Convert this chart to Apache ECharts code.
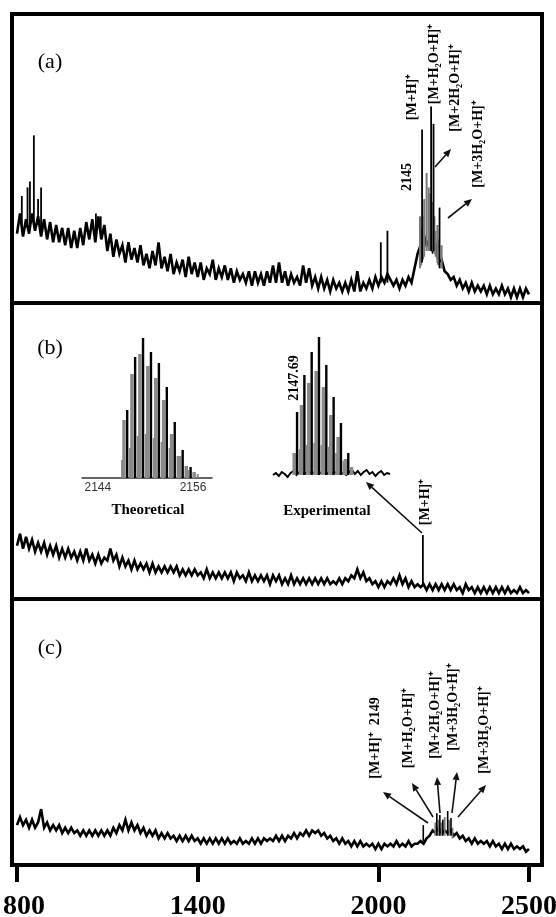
<!DOCTYPE html>
<html>
<head>
<meta charset="utf-8">
<script src="https://cdn.jsdelivr.net/npm/echarts@6/dist/echarts.min.js"></script>
<style>
  html, body { margin: 0; padding: 0; background: #fff; }
  #chart { width: 556px; height: 917px; }
</style>
</head>
<body>
<div id="chart"></div>
<script>
// ---- Spectra sampled every 10 m/z from 800 to 2500 (relative intensity, 0-100 per panel) ----
const MZ_START = 800;
const MZ_STEP = 10;

const specA = [
  24, 31, 23, 29, 24, 31, 25, 30, 23, 29,
  22, 28, 21, 27, 21, 26, 20, 26, 19, 25,
  19, 26, 20, 28, 22, 29, 21, 30, 22, 27,
  18, 24, 16, 22, 17, 20, 14, 21, 15, 19,
  14, 20, 13, 17, 12, 18, 13, 21, 12, 16,
  11, 17, 10, 14, 11, 15, 9, 16, 10, 14,
  9, 14, 8, 12, 10, 15, 8, 12, 9, 13,
  8, 12, 7, 11, 8, 10, 7, 11, 6, 11,
  7, 10, 6, 11, 7, 13, 7, 14, 7, 11,
  6, 10, 7, 9, 6, 13, 7, 12, 6, 9,
  5, 9, 5, 8, 4, 8, 5, 7, 4, 7,
  4, 8, 4, 11, 4, 7, 5, 8, 5, 9,
  6, 9, 7, 10, 8, 6, 8, 5, 8, 6,
  9, 7, 12, 17, 20, 24, 20, 22, 18, 20,
  14, 15, 11, 10, 8, 9, 6, 8, 5, 7,
  4, 7, 4, 6, 4, 6, 3, 6, 3, 5,
  3, 6, 3, 5, 2, 5, 2, 5, 2, 5,
  3
];

const specB = [
  18, 22, 17, 21, 17, 20, 16, 19, 16, 19,
  15, 18, 15, 18, 14, 17, 14, 17, 14, 16,
  13, 16, 13, 17, 13, 15, 12, 15, 12, 14,
  13, 17, 13, 15, 11, 14, 11, 13, 10, 13,
  10, 12, 10, 12, 9, 12, 9, 11, 9, 11,
  9, 11, 9, 11, 8, 10, 8, 10, 8, 10,
  8, 9, 7, 10, 7, 9, 7, 9, 7, 9,
  7, 9, 6, 9, 7, 8, 6, 9, 6, 8,
  6, 8, 6, 8, 5, 8, 6, 8, 5, 7,
  5, 8, 5, 7, 5, 7, 5, 7, 5, 7,
  5, 7, 5, 7, 5, 6, 5, 7, 5, 7,
  6, 8, 7, 10, 7, 9, 6, 7, 5, 6,
  4, 6, 4, 6, 5, 7, 5, 8, 5, 7,
  4, 6, 4, 5, 4, 5, 3, 5, 3, 5,
  3, 5, 3, 5, 3, 5, 3, 4, 2, 5,
  3, 4, 2, 4, 2, 4, 2, 4, 2, 4,
  2, 4, 2, 4, 2, 3, 2, 4, 2, 3,
  2
];

const specC = [
  15, 18, 15, 17, 14, 17, 14, 16, 21, 14,
  16, 13, 15, 13, 15, 12, 14, 12, 14, 12,
  13, 11, 13, 11, 13, 11, 13, 11, 13, 11,
  13, 11, 14, 12, 15, 13, 17, 13, 16, 13,
  15, 12, 14, 11, 13, 11, 13, 10, 12, 10,
  12, 10, 11, 9, 11, 9, 11, 9, 11, 9,
  10, 8, 10, 8, 10, 8, 10, 8, 10, 8,
  10, 8, 9, 8, 10, 8, 9, 8, 10, 8,
  10, 8, 10, 9, 10, 9, 11, 9, 11, 9,
  11, 10, 12, 10, 12, 11, 13, 11, 13, 12,
  13, 11, 12, 10, 11, 9, 10, 8, 10, 8,
  9, 7, 9, 7, 9, 7, 8, 7, 8, 6,
  8, 6, 8, 7, 8, 7, 9, 7, 8, 7,
  9, 7, 8, 8, 9, 8, 10, 11, 13, 12,
  14, 12, 13, 12, 13, 11, 12, 10, 11, 9,
  10, 8, 10, 8, 9, 8, 9, 7, 9, 7,
  8, 6, 8, 6, 8, 6, 7, 6, 7, 5,
  6
];

// Sharp peaks drawn as sticks: [m/z, foot, top]
const peaksA = [
  [816, 26, 37], [835, 26, 40], [843, 27, 42], [856, 28, 58], [870, 27, 36], [880, 26, 40],
  [1062, 24, 31], [1078, 24, 30], [2008, 7, 21], [2030, 7, 25],
  [2145, 14, 60], [2175, 18, 68], [2183, 18, 62], [2203, 12, 33]
];
const shouldersA = [
  [2138, 12, 30], [2142, 13, 26], [2148, 15, 30], [2152, 16, 36], [2160, 18, 45],
  [2167, 18, 40], [2171, 18, 38], [2179, 18, 35], [2186, 17, 30],
  [2190, 16, 25], [2196, 14, 27], [2200, 13, 22], [2210, 12, 20]
];
const peaksB = [[2147.69, 5, 21.6]];
const peaksC = [
  [2149, 9, 15], [2194, 11, 19.5], [2204, 11, 18.8], [2214, 11, 17], [2230, 11, 20.3], [2241, 11, 17.7]
];
const shouldersC = [
  [2189, 11, 16], [2199, 11, 17], [2209, 11, 16], [2220, 11, 18], [2235, 11, 17], [2246, 10, 14]
];

const axisTicks = [800, 1400, 2000, 2500];

// ---- Isotope pattern insets ----
const theoTicks = [2144, 2156];
const theoMz = [2147.7, 2148.7, 2149.7, 2150.7, 2151.7, 2152.7, 2153.7, 2154.7, 2155.7];
const theoHeight = [68, 121, 140, 126, 115, 91, 56, 28, 11];
const theoShoulderMz = [2147.3, 2148.3, 2149.3, 2150.3, 2151.3, 2152.3, 2153.3, 2154.3, 2155.3];
const theoShoulder = [58, 104, 124, 112, 100, 78, 44, 22, 8];
const theoValleyMz = [2148.15, 2149.15, 2150.15, 2151.15, 2152.15, 2153.15, 2154.15, 2155.15, 2156.15];
const theoValley = [30, 42, 44, 40, 36, 30, 22, 12, 6];
const theoFoot = [[2147.05, 18], [2156.6, 4]];

const expMz = [2147.69, 2148.69, 2149.69, 2150.69, 2151.69, 2152.69, 2153.69, 2154.69];
const expHeight = [63, 100, 123, 138, 110, 78, 52, 22];
const expShoulderMz = [2147.3, 2148.3, 2149.3, 2150.3, 2151.3, 2152.3, 2153.3, 2154.3];
const expShoulder = [22, 70, 92, 104, 88, 60, 38, 16];
const expValleyMz = [2148.15, 2149.15, 2150.15, 2151.15, 2152.15, 2153.15, 2154.15, 2155.15];
const expValley = [26, 30, 32, 30, 28, 22, 14, 8];
const expNoiseStart = 2144.4;
const expNoiseStep = 0.4;
const expNoise = [
  0, 2, -1, 3, 1, -2, 2, 4, 0, 3,
  1, 2, 1, 3, 2, 1, 2, 3, 1, 2,
  1, 3, 2, 1, 2, 0, 3, 5, 1, 4,
  0, 3, 5, 1, 3, -1, 2, 4, 0, 2,
  1
];

// ---- helpers ----
const toXY = (arr, start, step) => arr.map((v, i) => [start + i * step, v]);
const sticksFrom = (mz, h) => mz.map((m, i) => [m, 0, h[i]]);
const plainNumber = (v) => String(v);

function stickSeries(data, idx, color, width) {
  return {
    type: 'custom', xAxisIndex: idx, yAxisIndex: idx, data: data,
    encode: { x: 0, y: [1, 2] }, silent: true, animation: false, z: 3,
    renderItem: function (params, api) {
      const a = api.coord([api.value(0), api.value(1)]);
      const b = api.coord([api.value(0), api.value(2)]);
      return {
        type: 'line',
        shape: { x1: a[0], y1: a[1], x2: b[0], y2: b[1] },
        style: { stroke: color, lineWidth: width }
      };
    }
  };
}

function traceSeries(data, idx, width) {
  return {
    type: 'line', xAxisIndex: idx, yAxisIndex: idx, data: data,
    showSymbol: false, symbol: 'none', silent: true, animation: false, z: 2,
    lineStyle: { color: '#000', width: width, join: 'miter', miterLimit: 4 }
  };
}

const SERIF = '"Liberation Serif", "Times New Roman", serif';

function vLabel(text, x, y, size) {
  return {
    type: 'text', x: x, y: y, rotation: Math.PI / 2, z: 100,
    style: {
      text: text, fill: '#000', font: 'bold ' + size + 'px ' + SERIF,
      align: 'center', verticalAlign: 'middle'
    }
  };
}
function hLabel(text, x, y, font) {
  return {
    type: 'text', x: x, y: y, z: 100,
    style: { text: text, fill: '#000', font: font, align: 'center', verticalAlign: 'middle' }
  };
}
function arrow(x1, y1, x2, y2) {
  const ang = Math.atan2(y2 - y1, x2 - x1);
  const L = 8, W = 3.5;
  const bx = x2 - L * Math.cos(ang), by = y2 - L * Math.sin(ang);
  const px = -Math.sin(ang) * W, py = Math.cos(ang) * W;
  return [
    { type: 'line', z: 100, shape: { x1: x1, y1: y1, x2: bx, y2: by }, style: { stroke: '#111', lineWidth: 1.6 } },
    { type: 'polygon', z: 100, shape: { points: [[x2, y2], [bx + px, by + py], [bx - px, by - py]] }, style: { fill: '#111' } }
  ];
}

// ---- layout ----
const X_MIN = 783.4, X_MAX = 2543.2;
const frame = { show: true, borderColor: '#000', borderWidth: 4, backgroundColor: 'transparent', containLabel: false, outerBoundsMode: 'none' };

const grids = [
  Object.assign({ left: 12, top: 14, width: 530, height: 289 }, frame),
  Object.assign({ left: 12, top: 303, width: 530, height: 296 }, frame),
  Object.assign({ left: 12, top: 599, width: 530, height: 266 }, frame),
  { left: 82, top: 330, width: 130, height: 148, show: false, containLabel: false, outerBoundsMode: 'none' },
  { left: 273, top: 325, width: 117, height: 160, show: false, containLabel: false, outerBoundsMode: 'none' }
];

const tickFont = { fontFamily: SERIF, fontWeight: 'bold', fontSize: 28, color: '#000' };
const hiddenX = (g) => ({ type: 'value', gridIndex: g, min: X_MIN, max: X_MAX, show: false });
const xAxes = [
  hiddenX(0), hiddenX(1),
  {
    type: 'value', gridIndex: 2, min: X_MIN, max: X_MAX,
    axisLine: { show: false },
    splitLine: { show: false },
    axisTick: { show: true, inside: false, length: 17, customValues: axisTicks, lineStyle: { color: '#000', width: 4 } },
    axisLabel: Object.assign({
      show: true, customValues: axisTicks, margin: 28,
      formatter: (v) => (v === axisTicks[0] ? '{first|' + v + '}' : String(v)),
      rich: { first: Object.assign({ padding: [0, 0, 0, 14] }, tickFont) }
    }, tickFont)
  },
  {
    type: 'value', gridIndex: 3, min: 2142, max: 2158.4,
    axisLine: { show: true, onZero: false, lineStyle: { color: '#333', width: 1.5 } },
    axisTick: { show: false }, splitLine: { show: false },
    axisLabel: {
      show: true, customValues: theoTicks, margin: 4, formatter: plainNumber,
      fontFamily: '"Liberation Sans", Arial, sans-serif', fontSize: 12, color: '#333'
    }
  },
  { type: 'value', gridIndex: 4, min: 2144.4, max: 2160.4, show: false }
];
const yAxes = [
  { type: 'value', gridIndex: 0, min: 0, max: 100, show: false },
  { type: 'value', gridIndex: 1, min: 0, max: 100, show: false },
  { type: 'value', gridIndex: 2, min: 0, max: 100, show: false },
  { type: 'value', gridIndex: 3, min: 0, max: 148, show: false },
  { type: 'value', gridIndex: 4, min: -10, max: 150, show: false }
];

const series = [
  traceSeries(toXY(specA, MZ_START, MZ_STEP), 0, 2.6),
  stickSeries(shouldersA, 0, '#7a7a7a', 2),
  stickSeries(peaksA, 0, '#000', 1.8),
  traceSeries(toXY(specB, MZ_START, MZ_STEP), 1, 2.6),
  stickSeries(peaksB, 1, '#000', 1.8),
  traceSeries(toXY(specC, MZ_START, MZ_STEP), 2, 2.6),
  stickSeries(shouldersC, 2, '#7a7a7a', 1.8),
  stickSeries(peaksC, 2, '#000', 1.6),
  // theoretical isotope pattern
  stickSeries(sticksFrom(theoValleyMz, theoValley), 3, '#8a8a8a', 3.5),
  stickSeries(sticksFrom(theoShoulderMz, theoShoulder), 3, '#8a8a8a', 3.5),
  stickSeries(theoFoot.map(d => [d[0], 0, d[1]]), 3, '#8a8a8a', 2),
  stickSeries(sticksFrom(theoMz, theoHeight), 3, '#000', 2.4),
  // experimental isotope pattern
  traceSeries(toXY(expNoise, expNoiseStart, expNoiseStep), 4, 2),
  stickSeries(sticksFrom(expValleyMz, expValley), 4, '#8a8a8a', 3.5),
  stickSeries(sticksFrom(expShoulderMz, expShoulder), 4, '#8a8a8a', 3.5),
  stickSeries(sticksFrom(expMz, expHeight), 4, '#000', 2.4)
];

const graphic = [
  hLabel('(a)', 50, 62, '22px ' + SERIF),
  hLabel('(b)', 50, 348, '22px ' + SERIF),
  hLabel('(c)', 50, 648, '22px ' + SERIF),
  // panel (a)
  vLabel('[M+H]⁺', 412, 97, 14),
  vLabel('2145', 407, 177, 14),
  vLabel('[M+H₂O+H]⁺', 434, 64, 14),
  vLabel('[M+2H₂O+H]⁺', 455, 88, 14),
  vLabel('[M+3H₂O+H]⁺', 478, 144, 14),
  ...arrow(435, 167, 451, 149),
  ...arrow(448, 218, 472, 199),
  // panel (b)
  vLabel('2147.69', 294, 378, 14),
  vLabel('[M+H]⁺', 425, 502, 14),
  hLabel('Theoretical', 148, 510, 'bold 15px ' + SERIF),
  hLabel('Experimental', 327, 511, 'bold 15px ' + SERIF),
  ...arrow(422, 533, 366, 482),
  // panel (c)
  vLabel('[M+H]⁺  2149', 375, 738, 14),
  vLabel('[M+H₂O+H]⁺', 408, 728, 14),
  vLabel('[M+2H₂O+H]⁺', 435, 715, 14),
  vLabel('[M+3H₂O+H]⁺', 453, 707, 14),
  vLabel('[M+3H₂O+H]⁺', 484, 730, 14),
  ...arrow(428, 823, 383, 792),
  ...arrow(433, 817, 412, 783),
  ...arrow(440, 813, 437, 777),
  ...arrow(452, 813, 457, 772),
  ...arrow(458, 817, 486, 785)
];

const chart = echarts.init(document.getElementById('chart'), null, { renderer: 'canvas' });
chart.setOption({
  animation: false,
  backgroundColor: '#fff',
  grid: grids,
  xAxis: xAxes,
  yAxis: yAxes,
  series: series,
  graphic: graphic
});
</script>
</body>
</html>
